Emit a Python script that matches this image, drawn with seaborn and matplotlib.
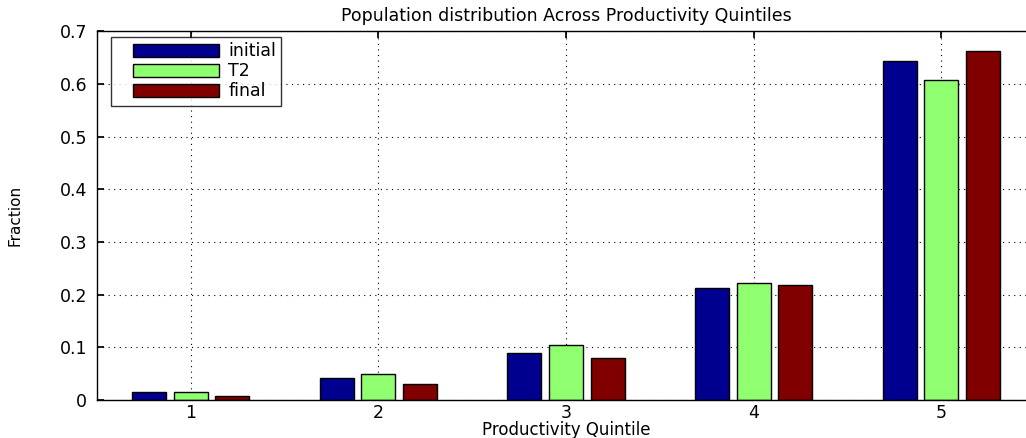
import matplotlib
matplotlib.use("Agg")
import matplotlib.pyplot as plt
from matplotlib.patches import Rectangle
from matplotlib.legend_handler import HandlerPatch
import seaborn as sns
import pandas as pd

quintiles = ["1", "2", "3", "4", "5"]
initial = [0.0145, 0.041, 0.0885, 0.2125, 0.643]
t2 = [0.015, 0.050, 0.104, 0.222, 0.607]
final = [0.0076, 0.030, 0.079, 0.219, 0.663]
series_names = ["initial", "T2", "final"]
colors = ["#00008F", "#8FFF70", "#800000"]

df = pd.DataFrame({
    "Quintile": quintiles * 3,
    "Fraction": initial + t2 + final,
    "Series": [s for s in series_names for _ in quintiles],
})

sns.set_theme(style="white")
plt.rcParams["font.family"] = ["DejaVu Sans"]
plt.rcParams.update({"text.color": "black", "axes.labelcolor": "black",
                     "xtick.color": "black", "ytick.color": "black"})

fig = plt.figure(figsize=(10.26, 4.38), dpi=100)
ax = fig.add_axes([0.0945, 0.0868, 0.9143, 0.842])

sns.barplot(data=df, x="Quintile", y="Fraction", hue="Series",
            palette=colors, width=0.666, gap=0.185, dodge=True,
            edgecolor="black", linewidth=1.0, saturation=1, ax=ax,
            errorbar=None, legend=True)

ax.set_xlim(-0.5, 4.5)
ax.set_ylim(0, 0.7)
ax.set_yticks([0, 0.1, 0.2, 0.3, 0.4, 0.5, 0.6, 0.7])
ax.set_yticklabels(["0", "0.1", "0.2", "0.3", "0.4", "0.5", "0.6", "0.7"])
ax.grid(True, linestyle=(0, (1, 4)), color="black", linewidth=0.8)
ax.set_axisbelow(True)
for sp in ax.spines.values():
    sp.set_visible(True)
    sp.set_color("black")
    sp.set_linewidth(1.0)
ax.tick_params(direction="in", length=5, color="black", labelsize=12.5,
               top=True, right=True, bottom=True, left=True)
ax.tick_params(axis="x", pad=3)
ax.tick_params(axis="y", pad=7)

ax.set_title("Population distribution Across Productivity Quintiles",
             fontsize=12.5, pad=7)
ax.set_xlabel("Productivity Quintile", fontsize=12, labelpad=-1)
ax.set_ylabel("Fraction", fontsize=11, labelpad=27)


def inset_patch(legend, orig_handle, xdescent, ydescent, width, height, fontsize):
    # leave some blank room on the left of each swatch
    shift = 12
    return Rectangle((-xdescent + shift, -ydescent), width - shift, height)


leg = ax.legend(loc="upper left", bbox_to_anchor=(0.015, 0.984),
                fontsize=12.5, frameon=True, fancybox=False,
                edgecolor="black", handlelength=5.9, handleheight=0.8,
                labelspacing=0.12, borderpad=0.3, handletextpad=0.55,
                borderaxespad=0,
                handler_map={Rectangle: HandlerPatch(patch_func=inset_patch)})
leg.get_frame().set_linewidth(1.0)

fig.savefig("out.png", dpi=100)
